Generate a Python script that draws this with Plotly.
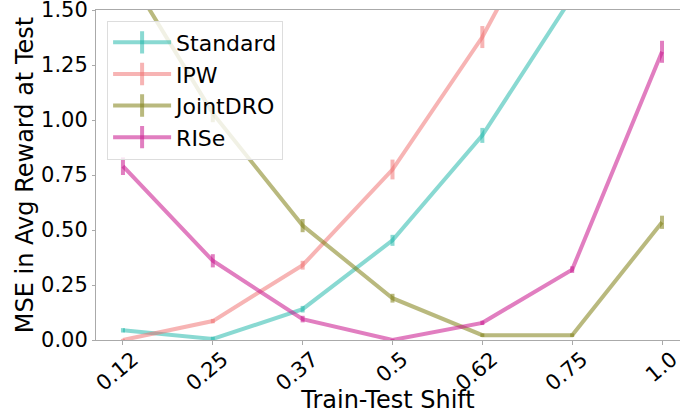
import plotly.graph_objects as go

shift_labels = ["0.12", "0.25", "0.37", "0.5", "0.62", "0.75", "1.0"]

standard_mse = [0.044, 0.005, 0.14, 0.453, 0.93, 1.56, 2.4]
standard_err = [0.01, 0.01, 0.015, 0.025, 0.034, 0.05, 0.06]

ipw_mse = [0.0, 0.086, 0.34, 0.775, 1.377, 2.1, 2.9]
ipw_err = [0.005, 0.01, 0.02, 0.045, 0.05, 0.06, 0.07]

jointdro_mse = [1.70, 1.03, 0.52, 0.19, 0.022, 0.022, 0.535]
jointdro_err = [0.05, 0.04, 0.03, 0.02, 0.008, 0.008, 0.03]

rise_mse = [0.79, 0.36, 0.095, 0.0, 0.078, 0.32, 1.31]
rise_err = [0.04, 0.03, 0.015, 0.005, 0.01, 0.015, 0.05]

y_ticks = [0.0, 0.25, 0.5, 0.75, 1.0, 1.25, 1.5]

series = [
    ("Standard", standard_mse, standard_err, "rgba(20,180,165,0.5)"),
    ("IPW", ipw_mse, ipw_err, "rgba(240,105,105,0.5)"),
    ("JointDRO", jointdro_mse, jointdro_err, "rgba(128,128,20,0.55)"),
    ("RISe", rise_mse, rise_err, "rgba(200,20,140,0.55)"),
]

fig = go.Figure()
for name, vals, errs, col in series:
    fig.add_trace(go.Scatter(
        x=shift_labels, y=vals, mode="lines", name=name, showlegend=False,
        line=dict(color=col, width=4),
        error_y=dict(type="data", array=errs, visible=True, color=col,
                     thickness=4, width=0),
    ))
for name, vals, errs, col in series:
    fig.add_trace(go.Scatter(
        x=[None], y=[None], mode="lines+markers", name=name, showlegend=True,
        line=dict(color=col, width=4),
        marker=dict(symbol="line-ns", size=22, color=col,
                    line=dict(color=col, width=4)),
    ))

font = "DejaVu Sans, sans-serif"
fig.update_layout(
    width=680, height=414,
    margin=dict(l=96, r=0, t=9.5, b=74),
    paper_bgcolor="white", plot_bgcolor="white",
    font=dict(family=font, color="black", size=21),
    showlegend=True,
    legend=dict(
        x=0.019, y=0.968, xanchor="left", yanchor="top",
        bgcolor="rgba(255,255,255,0.8)", bordercolor="#dddddd", borderwidth=1,
        font=dict(family=font, size=22, color="black"),
        itemsizing="trace", itemwidth=58,
    ),
    xaxis=dict(
        type="category", range=[-0.3, 6.2], automargin=False,
        showline=True, linecolor="#aaaaaa", linewidth=1, mirror=True,
        showgrid=False, zeroline=False,
        ticks="outside", ticklen=4, tickcolor="#aaaaaa",
        tickangle=-40, ticklabelshift=10, ticklabelstandoff=-6,
        ticklabeloverflow="allow",
        tickfont=dict(family=font, size=21, color="black"),
        title=dict(text="Train-Test Shift", font=dict(family=font, size=24), standoff=3),
    ),
    yaxis=dict(
        range=[0, 1.5], tickvals=y_ticks, tickformat=".2f", automargin=False,
        showline=True, linecolor="#aaaaaa", linewidth=1,
        showgrid=False, zeroline=False,
        ticks="outside", ticklen=3, tickcolor="#aaaaaa",
        ticklabeloverflow="allow",
        tickfont=dict(family=font, size=21, color="black"),
        title=dict(text="MSE in Avg Reward at Test", font=dict(family=font, size=24), standoff=0),
    ),
)

fig.write_html("out.html", config={"displayModeBar": False},
               post_script="document.body.style.margin='0';")
